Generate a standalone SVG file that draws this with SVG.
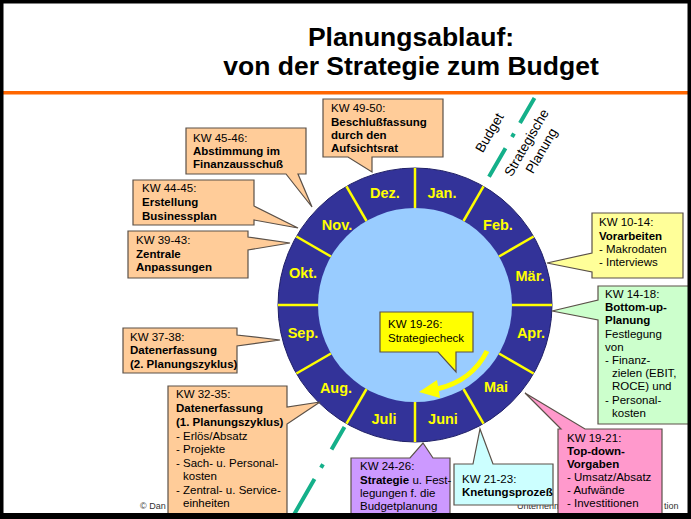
<svg xmlns="http://www.w3.org/2000/svg" width="691" height="519" viewBox="0 0 691 519">
<style>
text{font-family:"Liberation Sans",Arial,sans-serif;fill:#000}
.t{font-size:11.5px}
.b{font-weight:bold}
.co{stroke:#5a5048;stroke-width:1.2}
.peach{fill:#FFCC99}
.mon{font-size:14.5px;font-weight:bold;fill:#FFFF00;text-anchor:middle}
.div{stroke:#FFFF00;stroke-width:2.5}
.gl{stroke:#14B08A;stroke-width:4;fill:none}
.rot{font-size:13.5px;text-anchor:middle}
.ft{font-size:9px;fill:#333}
</style>
<rect width="691" height="519" fill="#FFFFFF"/>
<g id="title">
<text x="411" y="45.5" font-size="26.5" font-weight="bold" text-anchor="middle">Planungsablauf:</text>
<text x="411" y="75" font-size="26.5" font-weight="bold" text-anchor="middle">von der Strategie zum Budget</text>
</g>
<rect x="2" y="91" width="687" height="3.5" fill="#FF6600"/>
<g id="footer">
<text class="ft" x="140" y="509">© Dan</text>
<text class="ft" x="517" y="509">Unternehm</text>
<text class="ft" x="664" y="509">tion</text>
</g>
<g id="cycle">
<circle cx="415" cy="305" r="137" fill="#333399" stroke="#1f1f66" stroke-width="1"/>
<circle cx="415" cy="305" r="97" fill="#99CCFF"/>
<g class="div">
<line x1="415" y1="208" x2="415" y2="168"/>
<line x1="463.5" y1="221" x2="483.5" y2="186.4"/>
<line x1="499" y1="256.5" x2="533.6" y2="236.5"/>
<line x1="512" y1="305" x2="552" y2="305"/>
<line x1="499" y1="353.5" x2="533.6" y2="373.5"/>
<line x1="463.5" y1="389" x2="483.5" y2="423.6"/>
<line x1="415" y1="402" x2="415" y2="442"/>
<line x1="366.5" y1="389" x2="346.5" y2="423.6"/>
<line x1="331" y1="353.5" x2="296.4" y2="373.5"/>
<line x1="318" y1="305" x2="278" y2="305"/>
<line x1="331" y1="256.5" x2="296.4" y2="236.5"/>
<line x1="366.5" y1="221" x2="346.5" y2="186.4"/>
</g>
<text class="mon" x="442" y="198">Jan.</text>
<text class="mon" x="498" y="230">Feb.</text>
<text class="mon" x="530" y="281">Mär.</text>
<text class="mon" x="531" y="338">Apr.</text>
<text class="mon" x="496" y="392">Mai</text>
<text class="mon" x="443" y="424">Juni</text>
<text class="mon" x="384" y="424">Juli</text>
<text class="mon" x="336" y="393">Aug.</text>
<text class="mon" x="303" y="338">Sep.</text>
<text class="mon" x="303" y="278">Okt.</text>
<text class="mon" x="337" y="230">Nov.</text>
<text class="mon" x="385" y="198">Dez.</text>
</g>
<g id="connectors">
<path class="gl" d="M534.5,98 L489,176.8" stroke-dasharray="29 12 4 13 60"/>
<path class="gl" d="M344.5,427.1 L290,521.5" stroke-dasharray="26 17 4 13 100"/>
<path d="M487,351 Q472,381 437,389" fill="none" stroke="#FFFF00" stroke-width="5"/>
<polygon points="419,392 437,380 440,398" fill="#FFFF00"/>
</g>
<g id="labels-axis">
<text class="rot" transform="translate(490,133) rotate(-60)" y="4">Budget</text>
<text class="rot" transform="translate(527,143) rotate(-60)" y="4">Strategische</text>
<text class="rot" transform="translate(542,151) rotate(-60)" y="4">Planung</text>
</g>
<g id="kw49-50">
<path class="co peach" d="M323,99 H443 V157 H372 V172 L348,157 H323 Z"/>
<text class="t" x="331" y="112">KW 49-50:</text>
<text class="t b" x="331" y="126">Beschlußfassung</text>
<text class="t b" x="331" y="139">durch den</text>
<text class="t b" x="331" y="152">Aufsichtsrat</text>
</g>
<g id="kw45-46">
<path class="co peach" d="M186,128 H306 V174 H298 L312,207 L286,174 H186 Z"/>
<text class="t" x="193" y="142">KW 45-46:</text>
<text class="t b" x="193" y="155">Abstimmung im</text>
<text class="t b" x="193" y="168">Finanzausschuß</text>
</g>
<g id="kw44-45">
<path class="co peach" d="M133,180 H254 V206 L298,228 L254,220 V225 H133 Z"/>
<text class="t" x="142" y="192">KW 44-45:</text>
<text class="t b" x="142" y="206">Erstellung</text>
<text class="t b" x="142" y="220">Businessplan</text>
</g>
<g id="kw39-43">
<path class="co peach" d="M128,231 H248 V237 L290,243 L248,250 V278 H128 Z"/>
<text class="t" x="136" y="244">KW 39-43:</text>
<text class="t b" x="136" y="258">Zentrale</text>
<text class="t b" x="136" y="271">Anpassungen</text>
</g>
<g id="kw37-38">
<path class="co peach" d="M123,328 H237 V335 L280,340 L237,346 V373 H123 Z"/>
<text class="t" x="130" y="341">KW 37-38:</text>
<text class="t b" x="130" y="354">Datenerfassung</text>
<text class="t b" x="130" y="368">(2. Planungszyklus)</text>
</g>
<g id="kw32-35">
<path class="co peach" d="M168,386 H287 V407 L320,402 L287,424 V525 H168 Z"/>
<text class="t" x="176" y="398">KW 32-35:</text>
<text class="t b" x="176" y="412">Datenerfassung</text>
<text class="t b" x="176" y="426">(1. Planungszyklus)</text>
<text class="t" x="176" y="440">- Erlös/Absatz</text>
<text class="t" x="176" y="453">- Projekte</text>
<text class="t" x="176" y="467">- Sach- u. Personal-</text>
<text class="t" x="183" y="480">kosten</text>
<text class="t" x="176" y="494">- Zentral- u. Service-</text>
<text class="t" x="183" y="507">einheiten</text>
</g>
<g id="kw24-26">
<path class="co" fill="#CC99FF" d="M351,458 H410 L423,443 L433,458 H450 V525 H351 Z"/>
<text class="t" x="360" y="470">KW 24-26:</text>
<text class="t" x="360" y="484"><tspan class="b">Strategie</tspan> u. Fest-</text>
<text class="t" x="360" y="497">legungen f. die</text>
<text class="t" x="360" y="510">Budgetplanung</text>
</g>
<g id="kw21-23">
<path class="co" fill="#CCFFFF" d="M454,464 H473 L480,429 L493,464 H553 V505 H454 Z"/>
<text class="t" x="462" y="483">KW 21-23:</text>
<text class="t b" x="462" y="496">Knetungsprozeß</text>
</g>
<g id="kw19-21">
<path class="co" fill="#FF99CC" d="M558,429 H561 L525,393 L585,429 H662 V525 H558 Z"/>
<text class="t" x="567" y="442">KW 19-21:</text>
<text class="t b" x="567" y="455">Top-down-</text>
<text class="t b" x="567" y="468">Vorgaben</text>
<text class="t" x="567" y="481">- Umsatz/Absatz</text>
<text class="t" x="567" y="494">- Aufwände</text>
<text class="t" x="567" y="507">- Investitionen</text>
</g>
<g id="kw10-14">
<path class="co" fill="#FFFF99" d="M592,213 H683 V278 H592 V272 L547,263 L592,253 Z"/>
<text class="t" x="599" y="226">KW 10-14:</text>
<text class="t b" x="599" y="240">Vorarbeiten</text>
<text class="t" x="599" y="253">- Makrodaten</text>
<text class="t" x="599" y="266">- Interviews</text>
</g>
<g id="kw14-18">
<path class="co" fill="#CCFFCC" d="M598,286 H690 V424 H598 V320 L552,311 L598,300 Z"/>
<text class="t" x="605" y="298">KW 14-18:</text>
<text class="t b" x="605" y="311">Bottom-up-</text>
<text class="t b" x="605" y="324">Planung</text>
<text class="t" x="605" y="338">Festlegung</text>
<text class="t" x="605" y="351">von</text>
<text class="t" x="605" y="364">- Finanz-</text>
<text class="t" x="612" y="377">zielen (EBIT,</text>
<text class="t" x="612" y="390">ROCE) und</text>
<text class="t" x="605" y="404">- Personal-</text>
<text class="t" x="612" y="417">kosten</text>
</g>
<g id="kw19-26">
<path class="co" fill="#FFFF00" d="M380,312 H473 V352 H456 V372 L438,352 H380 Z"/>
<text class="t" x="388" y="328">KW 19-26:</text>
<text class="t" x="388" y="342">Strategiecheck</text>
</g>
<g id="frame">
<rect x="1.75" y="1.75" width="687.5" height="514" fill="none" stroke="#000" stroke-width="3.5"/>
<rect x="0" y="513" width="691" height="6" fill="#000"/>
</g>
</svg>
